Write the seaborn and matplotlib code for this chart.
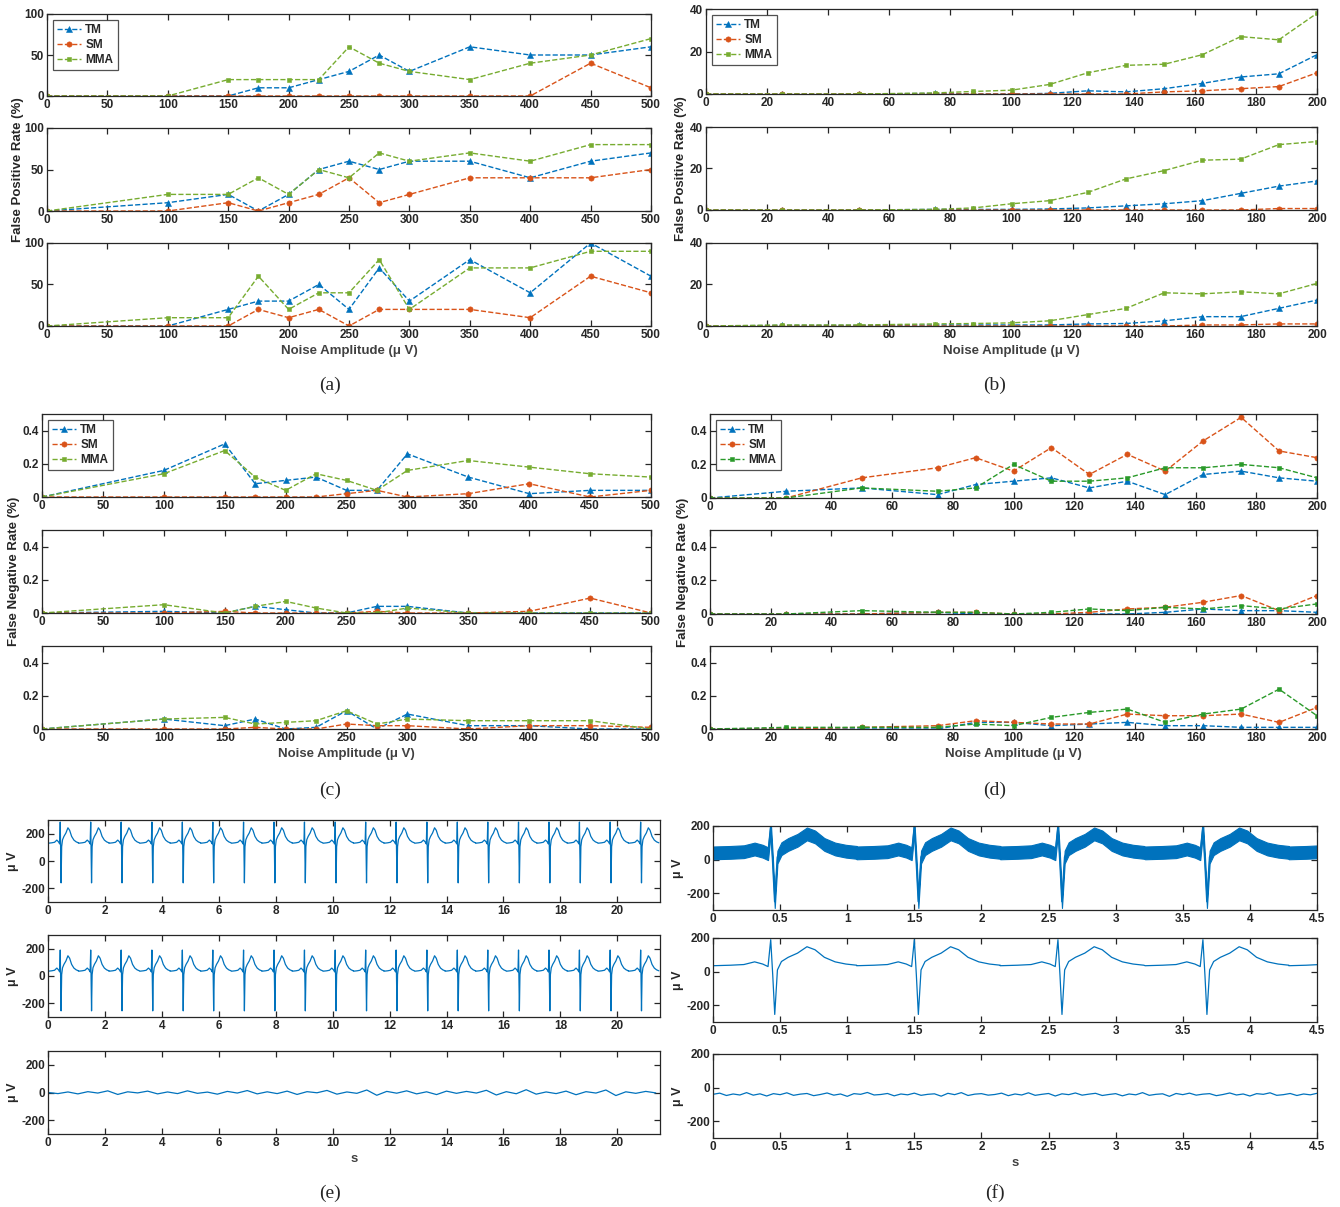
import numpy as np
import pandas as pd
import matplotlib
matplotlib.use("Agg")
import matplotlib.pyplot as plt
import seaborn as sns

sns.set_style("ticks")
plt.rcParams['font.family'] = ['Liberation Sans Narrow', 'Liberation Sans', 'DejaVu Sans']

# ---------------- data ----------------
AC_X = [0, 100, 150, 175, 200, 225, 250, 275, 300, 350, 400, 450, 500]
BD_X = [0, 25, 50, 75, 87.5, 100, 112.5, 125, 137.5, 150, 162.5, 175, 187.5, 200]

# (a) False positive rate, noise amplitude up to 500
A1_TM = [0, 0, 0, 10, 10, 20, 30, 50, 30, 60, 50, 50, 60]
A1_SM = [0, 0, 0, 0, 0, 0, 0, 0, 0, 0, 0, 40, 10]
A1_MMA = [0, 0, 20, 20, 20, 20, 60, 40, 30, 20, 40, 50, 70]
A2_TM = [0, 10, 20, 0, 20, 50, 60, 50, 60, 60, 40, 60, 70]
A2_SM = [0, 0, 10, 0, 10, 20, 40, 10, 20, 40, 40, 40, 50]
A2_MMA = [0, 20, 20, 40, 20, 50, 40, 70, 60, 70, 60, 80, 80]
A3_TM = [0, 0, 20, 30, 30, 50, 20, 70, 30, 80, 40, 100, 60]
A3_SM = [0, 0, 0, 20, 10, 20, 0, 20, 20, 20, 10, 60, 40]
A3_MMA = [0, 10, 10, 60, 20, 40, 40, 80, 20, 70, 70, 90, 90]

# (b) False positive rate, noise amplitude up to 200
B1_TM = [0, 0, 0, 0.3, 0, 0, 0.3, 1.5, 1, 2.5, 5, 8, 9.5, 18.5]
B1_SM = [0, 0, 0, 0, 0, 0, 0, 0, 0, 1, 1.5, 2.5, 3.5, 10]
B1_MMA = [0, 0, 0, 0.5, 1.2, 1.8, 4.5, 10, 13.5, 14, 18.5, 27, 25.5, 38]
B2_TM = [0, 0, 0, 0.3, 0.3, 0.3, 0.5, 1, 2, 3, 4.5, 8, 11.5, 14]
B2_SM = [0, 0, 0, 0, 0, 0, 0, 0, 0, 0, 0, 0, 0.7, 0.7]
B2_MMA = [0, 0, 0, 0.3, 1, 3, 4.5, 8.5, 15, 19, 24, 24.5, 31.5, 33]
B3_TM = [0, 0.3, 0.3, 0.5, 0.5, 0.5, 0.5, 1, 1.2, 2.5, 4.5, 4.5, 8.5, 12.5]
B3_SM = [0, 0, 0, 0, 0, 0, 0, 0, 0, 0, 0.5, 0.5, 1, 1]
B3_MMA = [0, 0.5, 0.5, 1, 1.2, 1.5, 2.5, 5.5, 8.5, 16, 15.5, 16.5, 15.5, 20.5]

# (c) False negative rate, noise amplitude up to 500
C1_TM = [0, 0.16, 0.32, 0.08, 0.10, 0.12, 0.04, 0.04, 0.26, 0.12, 0.02, 0.04, 0.04]
C1_SM = [0, 0, 0, 0, 0, 0, 0.02, 0.04, 0, 0.02, 0.08, 0, 0.04]
C1_MMA = [0, 0.14, 0.28, 0.12, 0.04, 0.14, 0.10, 0.04, 0.16, 0.22, 0.18, 0.14, 0.12]
C2_TM = [0, 0.01, 0, 0.04, 0.02, 0, 0, 0.04, 0.04, 0, 0, 0, 0]
C2_SM = [0, 0, 0.01, 0, 0, 0, 0, 0.01, 0, 0, 0.01, 0.09, 0]
C2_MMA = [0, 0.05, 0, 0.04, 0.07, 0.03, 0, 0, 0.03, 0, 0, 0, 0]
C3_TM = [0, 0.06, 0.02, 0.06, 0, 0.01, 0.11, 0, 0.09, 0.02, 0.02, 0, 0]
C3_SM = [0, 0, 0, 0.01, 0, 0, 0.03, 0.02, 0.02, 0, 0.02, 0.02, 0.01]
C3_MMA = [0, 0.06, 0.07, 0.03, 0.04, 0.05, 0.11, 0.03, 0.06, 0.05, 0.05, 0.05, 0]

# (d) False negative rate, noise amplitude up to 200
D1_TM = [0, 0.04, 0.06, 0.02, 0.08, 0.10, 0.12, 0.06, 0.10, 0.02, 0.14, 0.16, 0.12, 0.10]
D1_SM = [0, 0, 0.12, 0.18, 0.24, 0.16, 0.30, 0.14, 0.26, 0.16, 0.34, 0.48, 0.28, 0.24]
D1_MMA = [0, 0, 0.06, 0.04, 0.06, 0.20, 0.10, 0.10, 0.12, 0.18, 0.18, 0.20, 0.18, 0.12]
D2_TM = [0, 0, 0, 0.01, 0, 0, 0, 0, 0, 0.01, 0.03, 0.02, 0.02, 0.01]
D2_SM = [0, 0, 0, 0.01, 0.01, 0, 0, 0.01, 0.03, 0.04, 0.07, 0.11, 0.02, 0.11]
D2_MMA = [0, 0, 0.02, 0.01, 0.01, 0, 0.01, 0.03, 0.02, 0.04, 0.03, 0.05, 0.03, 0.06]
D3_TM = [0, 0, 0, 0, 0.04, 0.04, 0.02, 0.03, 0.04, 0.02, 0.02, 0.01, 0.01, 0.01]
D3_SM = [0, 0, 0.01, 0.02, 0.05, 0.04, 0.03, 0.03, 0.09, 0.08, 0.08, 0.09, 0.04, 0.13]
D3_MMA = [0, 0.01, 0.01, 0.01, 0.03, 0.02, 0.07, 0.10, 0.12, 0.04, 0.09, 0.12, 0.24, 0.08]

# ECG beat template (offset from R peak in s, amplitude in uV)
BEAT_OFF = [-0.43, -0.30, -0.20, -0.12, -0.06, -0.02, 0.0, 0.015, 0.03, 0.05, 0.08,
            0.13, 0.20, 0.27, 0.33, 0.40, 0.48, 0.56, 0.64]
BEAT_VAL = [35, 38, 42, 58, 45, 30, 190, -20, -255, 10, 60, 85, 110, 148, 130, 85, 58, 45, 38]
R_TIMES_E = [0.43, 1.50, 2.57, 3.65, 4.72, 5.79, 6.87, 7.94, 9.01, 10.09, 11.16, 12.23,
             13.31, 14.38, 15.45, 16.53, 17.60, 18.67, 19.75, 20.82]
R_TIMES_F = [0.43, 1.50, 2.57, 3.65, 4.72]
E_TOP_SHIFT = 95
F_TOP_SHIFT = 5
F_TOP_NOISE = 38  # half-width of the noise band in (f) top, uV

# baseline-wander noise (e, bottom), one value every 0.35 s
E_NOISE = [0, -8, 4, -10, 6, -4, 12, -14, 5, -3, 10, -10, 4, -8, 12, -6, 3, -12, 8, -4,
           14, -10, 5, -8, 10, -14, 6, -2, 15, -12, 4, -6, 18, -20, 8, -5, 12, -10, 5, -15,
           10, -6, 8, -4, 16, -18, 6, -9, 20, -12, 4, -8, 10, -16, 6, -4, 18, -22, 5, -6, 8, -3]
E_NOISE_DT = 0.35
# white noise (f, bottom), one value every 0.05 s
F_NOISE = [-40, -33, -47, -38, -44, -30, -45, -37, -50, -36, -42, -31, -46, -39, -35, -48,
           -41, -32, -45, -38, -52, -36, -40, -29, -44, -41, -35, -49, -38, -43, -33, -46,
           -40, -37, -51, -34, -42, -30, -47, -39, -36, -45, -41, -33, -48, -38, -44, -31,
           -46, -40, -35, -50, -37, -42, -32, -45, -39, -34, -47, -41, -36, -49, -38, -43,
           -30, -46, -40, -37, -52, -35, -42, -33, -45, -39, -36, -48, -41, -32, -44, -38,
           -50, -36, -40, -31, -46, -42, -35, -47, -38, -43, -34]
F_NOISE_DT = 0.05

BLUE = '#0072BD'
ORANGE = '#D95319'
GREEN = '#77AC30'
DGREEN = '#2A9A2A'

W, H = 1340, 1207
fig = plt.figure(figsize=(W / 100, H / 100), dpi=100)


def add_ax(l, t, r, b):
    return fig.add_axes([l / W, 1 - b / H, (r - l) / W, (b - t) / H])


def style(ax, xlim, xticks, ylim, yticks):
    ax.set_xlim(*xlim)
    ax.set_ylim(*ylim)
    ax.set_xticks(xticks)
    ax.set_yticks(yticks)
    ax.set_xticklabels([('%g' % v) for v in xticks], fontweight='bold')
    ax.set_yticklabels([('%g' % v) for v in yticks], fontweight='bold')
    ax.tick_params(direction='in', top=True, right=True, length=4, width=0.9,
                   labelsize=8.5, pad=2, colors='#262626')
    for s in ax.spines.values():
        s.set_visible(True)
        s.set_color('#262626')
        s.set_linewidth(0.9)
    ax.set_xlabel('')
    ax.set_ylabel('')


def rate_panel(l, r, rows, x, series, mma_color, xlim, xticks, ylim, yticks, ylabel, ylab_x):
    axes = []
    for i, ((t, b), (tm, sm, mma)) in enumerate(zip(rows, series)):
        ax = add_ax(l, t, r, b)
        top = i == 0
        sns.lineplot(x=x, y=tm, ax=ax, color=BLUE, marker='^', markersize=4.5,
                     markeredgecolor=BLUE, markeredgewidth=0.4, linestyle='--', linewidth=1,
                     label='TM' if top else None, legend=top)
        sns.lineplot(x=x, y=sm, ax=ax, color=ORANGE, marker='o', markersize=3.8,
                     markeredgecolor=ORANGE, markeredgewidth=0.4, linestyle='--', linewidth=1,
                     label='SM' if top else None, legend=top)
        sns.lineplot(x=x, y=mma, ax=ax, color=mma_color, marker='s', markersize=3.2,
                     markeredgecolor=mma_color, markeredgewidth=0.4, linestyle='--', linewidth=1,
                     label='MMA' if top else None, legend=top)
        style(ax, xlim, xticks, ylim, yticks)
        if top:
            leg = ax.legend(loc='upper left', frameon=True, fancybox=False,
                            edgecolor='#262626', handlelength=2.0, borderpad=0.35,
                            labelspacing=0.25, handletextpad=0.4,
                            borderaxespad=0.5, prop={'weight': 'bold', 'size': 8.5})
            leg.get_frame().set_linewidth(0.9)
        axes.append(ax)
    axes[-1].set_xlabel('Noise Amplitude (μ V)', fontsize=9.5, fontweight='bold',
                        color='#404040', labelpad=3)
    mid_t, mid_b = rows[1]
    fig.text(ylab_x / W, 1 - ((mid_t + mid_b) / 2) / H, ylabel, rotation=90,
             ha='center', va='center', fontsize=9.5, fontweight='bold', color='#262626')
    return axes


rows_a = [(14, 96), (128, 211), (243, 326)]
rows_b = [(9, 94), (127, 210), (243, 326)]
rows_c = [(414, 497), (530, 613), (646, 729)]
rows_d = [(414, 498), (530, 614), (646, 729)]

rate_panel(47, 651, rows_a, AC_X,
           [(A1_TM, A1_SM, A1_MMA), (A2_TM, A2_SM, A2_MMA), (A3_TM, A3_SM, A3_MMA)],
           GREEN, (0, 500), list(range(0, 501, 50)), (0, 100), [0, 50, 100],
           'False Positive Rate (%)', 18)
rate_panel(706, 1317, rows_b, BD_X,
           [(B1_TM, B1_SM, B1_MMA), (B2_TM, B2_SM, B2_MMA), (B3_TM, B3_SM, B3_MMA)],
           GREEN, (0, 200), list(range(0, 201, 20)), (0, 40), [0, 20, 40],
           'False Positive Rate (%)', 681)
rate_panel(42, 651, rows_c, AC_X,
           [(C1_TM, C1_SM, C1_MMA), (C2_TM, C2_SM, C2_MMA), (C3_TM, C3_SM, C3_MMA)],
           GREEN, (0, 500), list(range(0, 501, 50)), (0, 0.5), [0, 0.2, 0.4],
           'False Negative Rate (%)', 14)
rate_panel(710, 1317, rows_d, BD_X,
           [(D1_TM, D1_SM, D1_MMA), (D2_TM, D2_SM, D2_MMA), (D3_TM, D3_SM, D3_MMA)],
           DGREEN, (0, 200), list(range(0, 201, 20)), (0, 0.5), [0, 0.2, 0.4],
           'False Negative Rate (%)', 683)


# ---------------- ECG panels ----------------
def beats(r_times, shift):
    xs, ys = [], []
    for rt in r_times:
        xs.extend([rt + o for o in BEAT_OFF])
        ys.extend([v + shift for v in BEAT_VAL])
    return pd.DataFrame({'t': xs, 'v': ys})


def ecg_ax(l, t, r, b, df, xlim, xticks, ylim, lw, xlabel=False, band=0):
    ax = add_ax(l, t, r, b)
    if band:
        ax.fill_between(df['t'], df['v'] - band, df['v'] + band, color=BLUE,
                        linewidth=0.8, edgecolor=BLUE)
    sns.lineplot(data=df, x='t', y='v', ax=ax, color=BLUE, linewidth=lw,
                 estimator=None, sort=False)
    style(ax, xlim, xticks, ylim, [-200, 0, 200])
    ax.set_ylabel('μ V', fontsize=9, fontweight='bold', labelpad=2)
    if xlabel:
        ax.set_xlabel('s', fontsize=9.5, fontweight='bold', color='#404040', labelpad=3)
    return ax


e_x = (0, 21.5)
e_ticks = list(range(0, 21, 2))
ecg_ax(48, 820, 660, 902, beats(R_TIMES_E, E_TOP_SHIFT), e_x, e_ticks, (-300, 300), 0.9)
ecg_ax(48, 935, 660, 1017, beats(R_TIMES_E, 0), e_x, e_ticks, (-300, 300), 0.9)
e_noise_df = pd.DataFrame({'t': [i * E_NOISE_DT for i in range(len(E_NOISE))], 'v': E_NOISE})
ecg_ax(48, 1051, 660, 1134, e_noise_df, e_x, e_ticks, (-300, 300), 0.9, xlabel=True)

f_x = (0, 4.5)
f_ticks = [0, 0.5, 1, 1.5, 2, 2.5, 3, 3.5, 4, 4.5]
ecg_ax(713, 826, 1317, 910, beats(R_TIMES_F, F_TOP_SHIFT), f_x, f_ticks, (-300, 200), 1.2,
       band=F_TOP_NOISE)
ecg_ax(713, 938, 1317, 1022, beats(R_TIMES_F, 0), f_x, f_ticks, (-300, 200), 0.9)
f_noise_df = pd.DataFrame({'t': [i * F_NOISE_DT for i in range(len(F_NOISE))], 'v': F_NOISE})
ecg_ax(713, 1054, 1317, 1138, f_noise_df, f_x, f_ticks, (-300, 200), 0.9, xlabel=True)

# ---------------- captions ----------------
for lab, x, y in [('(a)', 330, 385), ('(b)', 995, 385), ('(c)', 330, 790),
                  ('(d)', 995, 790), ('(e)', 330, 1193), ('(f)', 995, 1193)]:
    fig.text(x / W, 1 - y / H, lab, ha='center', va='center', fontsize=14,
             family=['Liberation Serif', 'DejaVu Serif'])

fig.savefig('out.png', dpi=100)
